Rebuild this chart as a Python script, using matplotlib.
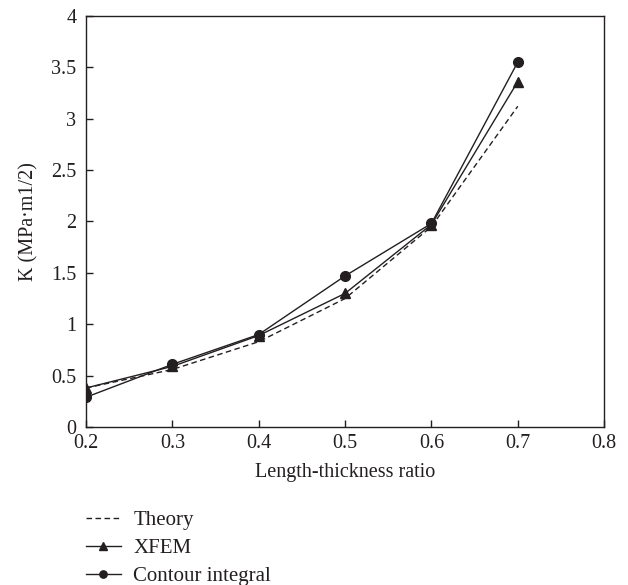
import matplotlib.pyplot as plt

# data
ratio = [0.2, 0.3, 0.4, 0.5, 0.6, 0.7]
k_theory = [0.38, 0.56, 0.83, 1.25, 1.95, 3.12]
k_xfem = [0.38, 0.59, 0.89, 1.30, 1.97, 3.36]
k_contour = [0.29, 0.61, 0.90, 1.47, 1.98, 3.55]

x_ticks = [0.2, 0.3, 0.4, 0.5, 0.6, 0.7, 0.8]
y_ticks = [0, 0.5, 1, 1.5, 2, 2.5, 3, 3.5, 4]
y_tick_labels = ['0', '0.5', '1', '1.5', '2', '2.5', '3', '3.5', '4']

plt.rcParams['font.family'] = ['Liberation Serif', 'DejaVu Serif']
plt.rcParams['font.size'] = 14.5

fig = plt.figure(figsize=(6.28, 5.85), dpi=100)
ax = fig.add_axes([0.137, 0.270, 0.825, 0.703])

c = '#231f20'
ax.plot(ratio, k_theory, color=c, linestyle=(0, (4, 2.5)), linewidth=1.0, label='Theory')
ax.plot(ratio, k_xfem, color=c, marker='^', markersize=7, linewidth=1.0, label='XFEM')
ax.plot(ratio, k_contour, color=c, marker='o', markersize=7, linewidth=1.0, label='Contour integral')

ax.set_xlim(0.2, 0.8)
ax.set_ylim(0, 4)
ax.set_xticks(x_ticks)
ax.set_xticklabels([str(t) for t in x_ticks])
ax.set_yticks(y_ticks)
ax.set_yticklabels(y_tick_labels)
ax.tick_params(direction='in', length=5, width=1.0, color=c, labelcolor=c)
ax.tick_params(axis='x', pad=5)
ax.tick_params(axis='y', pad=7)
for sp in ax.spines.values():
    sp.set_color(c)
    sp.set_linewidth(1.0)

ax.set_xlabel('Length-thickness ratio', color=c, labelpad=7)
ax.set_ylabel('K (MPa·m1/2)', color=c, labelpad=9)

fig.legend(loc='upper left', bbox_to_anchor=(0.123, 0.141), frameon=False,
           fontsize=15, handlelength=1.7, labelspacing=0.4, handletextpad=0.6,
           markerscale=0.75, borderaxespad=0, labelcolor=c)

plt.savefig('out.png', dpi=100)
